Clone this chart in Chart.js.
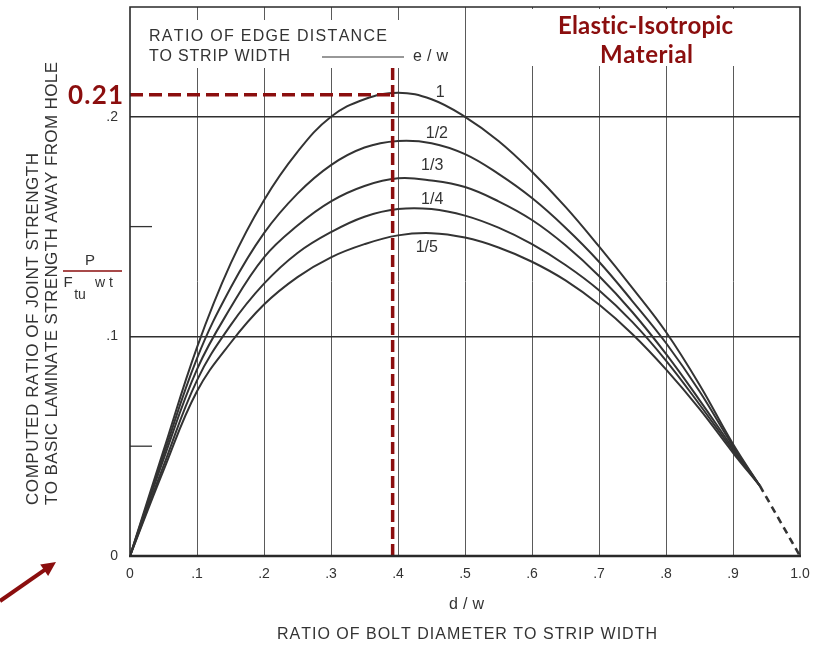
<!DOCTYPE html>
<html>
<head>
<meta charset="utf-8">
<script src="https://cdn.jsdelivr.net/npm/chart.js@4.4.1/dist/chart.umd.min.js"></script>
<style>
	html, body { margin: 0; padding: 0; background: #fff; }
	canvas { display: block; }
</style>
</head>
<body>
<canvas id="boltChart" width="825" height="645"></canvas>
<script>
const dOverW = [0, 0.05, 0.1, 0.15, 0.2, 0.25, 0.3, 0.35, 0.4, 0.45, 0.5, 0.55, 0.6, 0.65, 0.7, 0.75, 0.8, 0.85, 0.9, 0.94];

// P / (Ftu w t) for each e/w curve
const ewOne     = [0, 0.048, 0.095, 0.133, 0.162, 0.184, 0.200, 0.208, 0.211, 0.208, 0.200, 0.189, 0.175, 0.159, 0.141, 0.122, 0.102, 0.078, 0.051, 0.032];
const ewHalf    = [0, 0.046, 0.090, 0.122, 0.147, 0.165, 0.178, 0.186, 0.189, 0.188, 0.183, 0.174, 0.163, 0.1495, 0.134, 0.116, 0.097, 0.075, 0.050, 0.032];
const ewThird   = [0, 0.044, 0.085, 0.113, 0.136, 0.1505, 0.1615, 0.1685, 0.172, 0.171, 0.168, 0.1615, 0.153, 0.1415, 0.1275, 0.111, 0.092, 0.071, 0.049, 0.032];
const ewQuarter = [0, 0.041, 0.080, 0.105, 0.124, 0.138, 0.1475, 0.1545, 0.158, 0.158, 0.155, 0.1495, 0.142, 0.1325, 0.121, 0.1065, 0.089, 0.069, 0.048, 0.032];
const ewFifth   = [0, 0.039, 0.075, 0.097, 0.1145, 0.127, 0.136, 0.142, 0.146, 0.147, 0.145, 0.1405, 0.134, 0.1255, 0.1145, 0.101, 0.085, 0.067, 0.047, 0.032];

const curveNames = ['1', '1/2', '1/3', '1/4', '1/5'];
const curves = [ewOne, ewHalf, ewThird, ewQuarter, ewFifth];
// where each curve name is written (d/w, ratio)
const curveLabelAt = [[0.463, 0.211], [0.458, 0.1923], [0.451, 0.1777], [0.451, 0.1623], [0.443, 0.1405]];

// dashed extrapolation to d/w = 1
const extensionX = [0.94, 1.0];
const extensionY = [0.032, 0];

// red marker of the e/w = 1 maximum
const peakX = 0.392;
const peakY = 0.21;
const peakLineTop = 0.2227;

const xTickValues = [0, 0.1, 0.2, 0.3, 0.4, 0.5, 0.6, 0.7, 0.8, 0.9, 1.0];
const xTickLabels = ['0', '.1', '.2', '.3', '.4', '.5', '.6', '.7', '.8', '.9', '1.0'];
const yTickValues = [0, 0.05, 0.1, 0.15, 0.2, 0.25];
const yTickLabels = ['0', '', '.1', '', '.2', ''];

const ink = '#333333';
const red = '#8b0e0e';
const scanFont = "'Liberation Sans', 'DejaVu Sans', sans-serif";
const boldFont = "Lato, 'Open Sans', sans-serif";

const toPoints = (xs, ys) => xs.map((x, i) => ({ x, y: ys[i] }));

// spread the characters of a text between x1 and x2
const spread = (ctx, text, x1, x2, y) => {
	const chars = [...text];
	const widths = chars.map(c => ctx.measureText(c).width);
	const total = widths.reduce((a, b) => a + b, 0);
	const gap = chars.length > 1 ? (x2 - x1 - total) / (chars.length - 1) : 0;
	let x = x1;
	ctx.textAlign = 'left';
	chars.forEach((c, i) => { ctx.fillText(c, x, y); x += widths[i] + gap; });
};

const paperPlugin = {
	id: 'paper',
	beforeDatasetsDraw(chart) {
		const { ctx, chartArea: a, scales: { y } } = chart;
		ctx.save();
		// white patches behind the legend and the red note
		ctx.fillStyle = '#fff';
		ctx.fillRect(138, 20, 318, 48);
		ctx.fillRect(527, a.top + 2, 211, 57);
		// short inner ticks at the half steps
		ctx.strokeStyle = ink;
		ctx.lineWidth = 1.3;
		[0.05, 0.15].forEach(v => {
			const py = y.getPixelForValue(v);
			ctx.beginPath();
			ctx.moveTo(a.left, py);
			ctx.lineTo(a.left + 22, py);
			ctx.stroke();
		});
		ctx.restore();
	},
	afterDatasetsDraw(chart) {
		const { ctx, chartArea: a, scales: { x, y } } = chart;
		ctx.save();
		// frame
		ctx.strokeStyle = '#2a2a2a';
		ctx.lineWidth = 1.6;
		ctx.beginPath();
		ctx.moveTo(a.left, a.bottom);
		ctx.lineTo(a.left, a.top);
		ctx.lineTo(a.right, a.top);
		ctx.lineTo(a.right, a.bottom);
		ctx.stroke();
		ctx.lineWidth = 2.6;
		ctx.beginPath();
		ctx.moveTo(a.left - 1, a.bottom);
		ctx.lineTo(a.right + 1, a.bottom);
		ctx.stroke();

		// legend heading
		ctx.fillStyle = ink;
		ctx.textBaseline = 'middle';
		ctx.font = `16px ${scanFont}`;
		spread(ctx, 'RATIO OF EDGE DISTANCE', 149, 387, 37);
		spread(ctx, 'TO STRIP WIDTH', 149, 290, 57);
		ctx.strokeStyle = ink;
		ctx.lineWidth = 1.2;
		ctx.beginPath();
		ctx.moveTo(322, 57);
		ctx.lineTo(404, 57);
		ctx.stroke();
		spread(ctx, 'e / w', 413, 448, 57);

		// curve names
		ctx.font = `16px ${scanFont}`;
		ctx.textAlign = 'center';
		curveNames.forEach((name, i) => {
			const [vx, vy] = curveLabelAt[i];
			ctx.fillText(name, x.getPixelForValue(vx), y.getPixelForValue(vy));
		});

		// red notes
		ctx.fillStyle = red;
		ctx.font = `bold 24px ${boldFont}`;
		spread(ctx, 'Elastic-Isotropic', 558, 733, 26);
		spread(ctx, 'Material', 600, 693, 55);
		ctx.font = `bold 26px ${boldFont}`;
		spread(ctx, '0.21', 68, 123, y.getPixelForValue(peakY) + 1);

		// arrow at bottom left
		ctx.strokeStyle = red;
		ctx.fillStyle = red;
		ctx.lineWidth = 4;
		const tip = [56, 562];
		const tail = [0, 601];
		const ang = Math.atan2(tip[1] - tail[1], tip[0] - tail[0]);
		ctx.beginPath();
		ctx.moveTo(tail[0], tail[1]);
		ctx.lineTo(tip[0] - 12 * Math.cos(ang), tip[1] - 12 * Math.sin(ang));
		ctx.stroke();
		ctx.beginPath();
		ctx.moveTo(tip[0], tip[1]);
		ctx.lineTo(tip[0] - 16 * Math.cos(ang - 0.45), tip[1] - 16 * Math.sin(ang - 0.45));
		ctx.lineTo(tip[0] - 16 * Math.cos(ang + 0.45), tip[1] - 16 * Math.sin(ang + 0.45));
		ctx.closePath();
		ctx.fill();

		// axis titles
		ctx.fillStyle = ink;
		ctx.font = `16px ${scanFont}`;
		spread(ctx, 'd / w', 449, 484, 605);
		spread(ctx, 'RATIO OF BOLT DIAMETER TO STRIP WIDTH', 277, 657, 635);

		ctx.save();
		ctx.translate(0, 505);
		ctx.rotate(-Math.PI / 2);
		ctx.font = `17px ${scanFont}`;
		spread(ctx, 'COMPUTED RATIO OF JOINT STRENGTH', 0, 352, 33);
		spread(ctx, 'TO BASIC LAMINATE STRENGTH AWAY FROM HOLE', 0, 443, 52);
		ctx.restore();

		// P / Ftu w t
		ctx.font = `15px ${scanFont}`;
		ctx.textAlign = 'center';
		ctx.fillText('P', 90, 261);
		ctx.lineWidth = 1.3;
		ctx.beginPath();
		ctx.moveTo(63, 271);
		ctx.lineTo(122, 271);
		ctx.stroke();
		ctx.fillText('F', 68, 283);
		ctx.font = `14px ${scanFont}`;
		ctx.fillText('tu', 80, 295);
		ctx.fillText('w t', 104, 283);
		ctx.restore();
	},
};

const curveSets = curves.map((vals, i) => ({
	label: curveNames[i],
	data: toPoints(dOverW, vals),
	borderColor: ink,
	borderWidth: 2,
	pointRadius: 0,
	tension: 0.4,
	order: 1,
}));

const chart = new Chart(document.getElementById('boltChart'), {
	type: 'line',
	data: {
		datasets: [
			...curveSets,
			{
				label: 'extension',
				data: toPoints(extensionX, extensionY),
				borderColor: ink,
				borderWidth: 2.6,
				borderDash: [7, 5],
				pointRadius: 0,
				order: 1,
			},
			{
				label: 'peak-h',
				data: [{ x: 0, y: peakY }, { x: peakX, y: peakY }],
				borderColor: red,
				borderWidth: 3.5,
				borderDash: [13, 6],
				pointRadius: 0,
				order: 0,
			},
			{
				label: 'peak-v',
				data: [{ x: peakX, y: 0 }, { x: peakX, y: peakLineTop }],
				borderColor: red,
				borderWidth: 3.5,
				borderDash: [12, 5],
				pointRadius: 0,
				order: 0,
			},
		],
	},
	options: {
		responsive: false,
		animation: false,
		devicePixelRatio: 1,
		layout: { padding: { top: 7, right: 25, left: 0, bottom: 0 } },
		plugins: {
			legend: { display: false },
			tooltip: { enabled: false },
		},
		scales: {
			x: {
				type: 'linear',
				min: 0,
				max: 1,
				afterBuildTicks: (s) => { s.ticks = xTickValues.map(v => ({ value: v })); },
				afterFit: (s) => { s.height = 89; s.paddingLeft = 0; s.paddingRight = 0; },
				ticks: {
					callback: (v) => xTickLabels[xTickValues.findIndex(t => Math.abs(t - v) < 1e-6)] ?? '',
					color: ink,
					padding: 10,
					maxRotation: 0,
					font: { family: scanFont, size: 14 },
				},
				grid: {
					drawTicks: false,
					color: (c) => (c.tick && (c.tick.value === 0 || c.tick.value === 1)) ? 'rgba(0,0,0,0)' : '#5a5a5a',
					lineWidth: 1,
				},
				border: { display: false },
			},
			y: {
				type: 'linear',
				min: 0,
				max: 0.25,
				afterBuildTicks: (s) => { s.ticks = yTickValues.map(v => ({ value: v })); },
				afterFit: (s) => { s.width = 130; s.paddingTop = 0; s.paddingBottom = 0; },
				ticks: {
					callback: (v) => yTickLabels[yTickValues.findIndex(t => Math.abs(t - v) < 1e-6)] ?? '',
					color: ink,
					padding: 12,
					font: { family: scanFont, size: 14 },
				},
				grid: {
					drawTicks: false,
					color: (c) => (c.tick && (Math.abs(c.tick.value - 0.1) < 1e-6 || Math.abs(c.tick.value - 0.2) < 1e-6)) ? '#2f2f2f' : 'rgba(0,0,0,0)',
					lineWidth: 1.6,
				},
				border: { display: false },
			},
		},
	},
	plugins: [paperPlugin],
});
</script>
</body>
</html>
